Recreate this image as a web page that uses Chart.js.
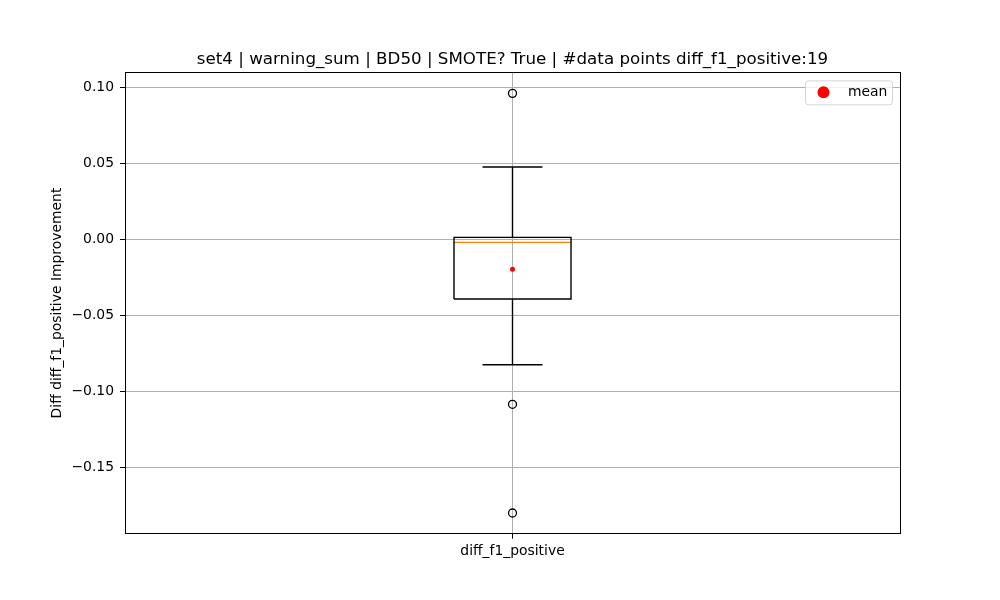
<!DOCTYPE html>
<html>
<head>
<meta charset="utf-8">
<script src="https://cdn.jsdelivr.net/npm/chart.js@4/dist/chart.umd.min.js"></script>
<style>
  html, body { margin: 0; padding: 0; background: #fff; }
  #wrap { width: 1000px; height: 600px; }
</style>
</head>
<body>
<div id="wrap"><canvas id="chart" width="1000" height="600"></canvas></div>
<script>
const categories = ['diff_f1_positive'];
const q1Values = [-0.0392];
const medianValues = [-0.0020];
const q3Values = [0.0013];
const whiskerLow = [-0.0823];
const whiskerHigh = [0.0475];
const meanValues = [-0.0197];
const outlierValues = [[0.0959, -0.1083, -0.1797]];
const yTicks = [-0.15, -0.10, -0.05, 0.00, 0.05, 0.10];
const titleText = 'set4 | warning_sum | BD50 | SMOTE? True | #data points diff_f1_positive:19';
const yLabel = 'Diff diff_f1_positive Improvement';

const FONT = 'DejaVu Sans';
const BOX_HALF = 0.0755;
const CAP_HALF = 0.0387;

const datasets = [];
categories.forEach((cat, i) => {
  const x = i + 1;
  const line = (pts, color) => ({
    type: 'scatter', data: pts, showLine: true, borderColor: color, borderWidth: 1.4,
    pointRadius: 0, fill: false, tension: 0
  });
  datasets.push(line([
    { x: x - BOX_HALF, y: q1Values[i] }, { x: x + BOX_HALF, y: q1Values[i] },
    { x: x + BOX_HALF, y: q3Values[i] }, { x: x - BOX_HALF, y: q3Values[i] },
    { x: x - BOX_HALF, y: q1Values[i] }
  ], '#000'));
  datasets.push(line([{ x, y: q1Values[i] }, { x, y: whiskerLow[i] }], '#000'));
  datasets.push(line([{ x, y: q3Values[i] }, { x, y: whiskerHigh[i] }], '#000'));
  datasets.push(line([{ x: x - CAP_HALF, y: whiskerLow[i] }, { x: x + CAP_HALF, y: whiskerLow[i] }], '#000'));
  datasets.push(line([{ x: x - CAP_HALF, y: whiskerHigh[i] }, { x: x + CAP_HALF, y: whiskerHigh[i] }], '#000'));
  datasets.push(line([{ x: x - BOX_HALF, y: medianValues[i] }, { x: x + BOX_HALF, y: medianValues[i] }], '#ff7f0e'));
  datasets.push({
    type: 'scatter', data: outlierValues[i].map(v => ({ x, y: v })),
    pointRadius: 4, pointBackgroundColor: 'rgba(0,0,0,0)', pointBorderColor: '#000', pointBorderWidth: 1.3
  });
  datasets.push({
    type: 'scatter', label: 'mean', data: [{ x, y: meanValues[i] }],
    pointRadius: 2.5, pointBackgroundColor: 'red', pointBorderWidth: 0
  });
});

// moldura do eixo + legenda dentro da área
const framePlugin = {
  id: 'frame',
  afterDatasetsDraw(chart) {
    const { ctx, chartArea: a } = chart;
    ctx.save();
    ctx.strokeStyle = '#000';
    ctx.lineWidth = 1;
    ctx.strokeRect(Math.round(a.left) + 0.5, Math.round(a.top) + 0.5,
      Math.round(a.right - a.left), Math.round(a.bottom - a.top));

    const w = 87, h = 24;
    const lx = a.right - 8 - w, ly = a.top + 8;
    ctx.beginPath();
    ctx.roundRect(lx + 0.5, ly + 0.5, w, h, 3);
    ctx.fillStyle = 'rgba(255,255,255,0.8)';
    ctx.fill();
    ctx.strokeStyle = '#d5d5d5';
    ctx.stroke();
    ctx.beginPath();
    ctx.arc(lx + 18.5, ly + 12, 6, 0, Math.PI * 2);
    ctx.fillStyle = 'red';
    ctx.fill();
    ctx.fillStyle = '#000';
    ctx.font = '13.9px "' + FONT + '"';
    ctx.textBaseline = 'middle';
    ctx.fillText('mean', lx + 43, ly + 12);
    ctx.restore();
  }
};

new Chart(document.getElementById('chart'), {
  type: 'scatter',
  data: { datasets },
  options: {
    responsive: false,
    animation: false,
    layout: { padding: { top: 0, right: 100, left: 0, bottom: 0 } },
    plugins: {
      legend: { display: false },
      tooltip: { enabled: false },
      title: {
        display: true, text: titleText, fullSize: false, color: '#000',
        font: { family: FONT, size: 16.7, weight: 'normal' },
        padding: { top: 50, bottom: 2.3 }
      }
    },
    scales: {
      x: {
        type: 'linear', min: 0.5, max: 1.5,
        afterBuildTicks: s => { s.ticks = categories.map((c, i) => ({ value: i + 1 })); },
        afterFit: s => { s.height = 66.3; },
        ticks: {
          color: '#000', padding: 4, font: { family: FONT, size: 13.9 },
          callback: v => categories[Math.round(v) - 1]
        },
        grid: { color: '#b0b0b0', lineWidth: 1, tickLength: 5, tickColor: '#000', tickWidth: 1 },
        border: { display: false }
      },
      y: {
        type: 'linear', min: -0.1933, max: 0.1097,
        afterBuildTicks: s => { s.ticks = yTicks.map(v => ({ value: v })); },
        afterFit: s => { s.width = 125; },
        ticks: {
          color: '#000', padding: 6, font: { family: FONT, size: 13.9 },
          callback: v => v.toFixed(2).replace('-', '\u2212')
        },
        grid: { color: '#b0b0b0', lineWidth: 1, tickLength: 5, tickColor: '#000', tickWidth: 1 },
        border: { display: false },
        title: {
          display: true, text: yLabel, color: '#000',
          font: { family: FONT, size: 13.9 }, padding: { top: 49, bottom: 0 }
        }
      }
    }
  },
  plugins: [framePlugin]
});
</script>
</body>
</html>
